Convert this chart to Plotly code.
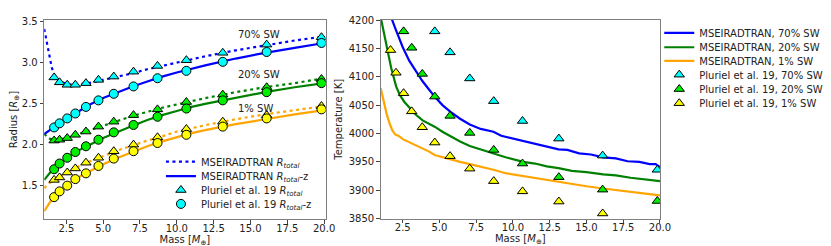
import plotly.graph_objects as go

# ---------------- data: left panel (radius) ----------------
mass_pluriel = [1.67, 2.04, 2.56, 3.11, 3.83, 4.68, 5.72, 7.06, 8.69, 10.65, 13.12, 16.1, 19.82]

pl_rtot_70 = [2.82, 2.76, 2.73, 2.73, 2.75, 2.79, 2.83, 2.89, 2.96, 3.03, 3.12, 3.22, 3.31]
pl_rz_70 = [2.21, 2.26, 2.32, 2.38, 2.46, 2.54, 2.62, 2.71, 2.81, 2.90, 3.01, 3.13, 3.24]
pl_rtot_20 = [2.05, 2.06, 2.08, 2.12, 2.16, 2.22, 2.28, 2.36, 2.43, 2.52, 2.61, 2.70, 2.80]
pl_rz_20 = [1.70, 1.77, 1.84, 1.91, 1.98, 2.06, 2.15, 2.24, 2.34, 2.44, 2.54, 2.64, 2.75]
pl_rtot_1 = [1.57, 1.60, 1.66, 1.71, 1.78, 1.84, 1.92, 2.00, 2.09, 2.19, 2.28, 2.36, 2.47]
pl_rz_1 = [1.36, 1.43, 1.50, 1.58, 1.65, 1.74, 1.83, 1.92, 2.02, 2.12, 2.22, 2.32, 2.43]

mass_model = [1.0, 1.1, 1.2, 1.3, 1.4, 1.5, 1.6, 1.7, 1.8, 2.0, 2.25, 2.5, 3.0, 3.5, 4.0,
              5.0, 6.0, 7.0, 8.0, 9.0, 10.0, 11.0, 12.0, 14.0, 16.0, 18.0, 20.0]
ms_rtot_70 = [3.41, 3.31, 3.21, 3.11, 3.02, 2.95, 2.89, 2.85, 2.81, 2.78, 2.76, 2.74, 2.73, 2.74, 2.75,
              2.79, 2.83, 2.87, 2.92, 2.96, 3.00, 3.04, 3.08, 3.15, 3.21, 3.27, 3.32]
ms_rz_70 = [2.13, 2.145, 2.16, 2.17, 2.18, 2.19, 2.20, 2.215, 2.23, 2.25, 2.28, 2.31, 2.37, 2.43, 2.48,
            2.57, 2.64, 2.71, 2.77, 2.83, 2.88, 2.925, 2.97, 3.05, 3.12, 3.18, 3.24]
ms_rtot_20 = [2.13, 2.11, 2.09, 2.08, 2.07, 2.065, 2.06, 2.06, 2.06, 2.06, 2.07, 2.08, 2.11, 2.14, 2.17,
              2.23, 2.29, 2.35, 2.40, 2.45, 2.49, 2.53, 2.57, 2.64, 2.70, 2.75, 2.81]
ms_rz_20 = [1.57, 1.595, 1.62, 1.64, 1.66, 1.675, 1.69, 1.71, 1.73, 1.76, 1.80, 1.84, 1.90, 1.95, 1.99,
            2.08, 2.16, 2.23, 2.30, 2.36, 2.41, 2.46, 2.50, 2.57, 2.64, 2.70, 2.75]
ms_rtot_1 = [1.47, 1.49, 1.51, 1.525, 1.54, 1.555, 1.57, 1.58, 1.59, 1.61, 1.635, 1.66, 1.71, 1.75, 1.79,
             1.86, 1.93, 1.99, 2.05, 2.10, 2.16, 2.20, 2.24, 2.31, 2.37, 2.42, 2.47]
ms_rz_1 = [1.19, 1.22, 1.25, 1.28, 1.31, 1.33, 1.35, 1.37, 1.39, 1.43, 1.465, 1.50, 1.57, 1.62, 1.67,
           1.76, 1.84, 1.91, 1.98, 2.04, 2.09, 2.14, 2.18, 2.25, 2.31, 2.37, 2.42]

# ---------------- data: right panel (temperature) ----------------
mass_t70 = [1.5, 1.78, 2.0, 2.28, 2.5, 2.95, 3.4, 3.85, 4.3, 4.67, 5.2, 5.75, 6.4, 7.06, 7.8, 8.67,
            9.2, 9.7, 10.69, 11.5, 12.3, 13.1, 13.7, 14.5, 15.3, 16.14, 17.0, 17.8, 18.6, 19.3, 19.7, 20.0]
temp_t70 = [4240, 4200, 4185, 4167, 4152, 4128, 4110, 4092, 4077, 4065, 4050, 4038, 4026, 4016, 4008, 4003,
            3996, 3993, 3987, 3982, 3977, 3972, 3971, 3965, 3963, 3958, 3956, 3951, 3950, 3946, 3946, 3941]
mass_t20 = [1.0, 1.2, 1.38, 1.71, 2.05, 2.3, 2.6, 3.0, 3.4, 3.85, 4.3, 4.67, 5.2, 5.75, 6.4, 7.06, 7.8,
            8.67, 9.5, 10.69, 11.5, 12.3, 13.1, 14.0, 15.0, 16.14, 17.0, 18.0, 19.0, 20.0]
temp_t20 = [4205, 4178, 4156, 4116, 4083, 4068, 4056, 4044, 4033, 4023, 4017, 4012, 4003, 3995, 3986, 3978,
            3972, 3965, 3958, 3950, 3947, 3942, 3939, 3934, 3932, 3928, 3926, 3922, 3919, 3916]
mass_t1 = [1.0, 1.2, 1.4, 1.6, 1.8, 2.0, 2.2, 2.5, 3.0, 3.4, 3.85, 4.3, 4.67, 5.2, 5.75, 6.4, 7.06, 7.8,
           8.67, 9.5, 10.69, 11.5, 12.3, 13.1, 14.0, 15.0, 16.14, 17.0, 18.0, 19.0, 20.0]
temp_t1 = [4080, 4055, 4035, 4018, 4005, 3998, 3996, 3990, 3984, 3979, 3973, 3968, 3962, 3958, 3955, 3950,
           3946, 3942, 3936, 3930, 3925, 3922, 3918, 3914, 3911, 3907, 3903, 3900, 3897, 3894, 3891]

mass_pt70 = [4.68, 5.72, 7.06, 8.69, 10.65, 13.12, 16.1, 19.82]
temp_pt70 = [4180, 4143, 4097, 4057, 4022, 3991, 3961, 3936]
mass_pt20 = [2.56, 3.11, 3.83, 4.68, 5.72, 7.06, 8.69, 10.65, 13.12, 16.1, 19.82]
temp_pt20 = [4180, 4151, 4105, 4065, 4031, 4001, 3971, 3947, 3923, 3901, 3881]
mass_pt1 = [1.67, 2.04, 2.56, 3.11, 3.83, 4.68, 5.72, 7.06, 8.69, 10.65, 13.12, 16.1]
temp_pt1 = [4147, 4107, 4071, 4039, 4011, 3984, 3960, 3938, 3916, 3898, 3880, 3859]

sw_labels = ["70% SW", "20% SW", "1% SW"]
sw_label_y = [3.34, 2.852, 2.446]

BLUE, GREEN, ORANGE = "#0000ff", "#008000", "#ffa500"
CYAN, LIME, YELLOW = "#00ffff", "#00ee00", "#ffff00"
FONT = "DejaVu Sans"

fig = go.Figure()

def line(x, y, color, dash, name=None, legend=None, xa="x", ya="y"):
    fig.add_trace(go.Scatter(
        x=x, y=y, mode="lines", xaxis=xa, yaxis=ya,
        line=dict(color=color, width=2.2, dash=dash),
        name=name or "", showlegend=legend is not None, legend=legend or "legend"))

def pts(x, y, color, symbol, name=None, legend=None, xa="x", ya="y"):
    fig.add_trace(go.Scatter(
        x=x, y=y, mode="markers", xaxis=xa, yaxis=ya,
        marker=dict(color=color, symbol=symbol, size=9, line=dict(color="black", width=1)),
        name=name or "", showlegend=legend is not None, legend=legend or "legend"))

# left panel lines
line(mass_model, ms_rtot_1, ORANGE, "3px,3.5px")
line(mass_model, ms_rz_1, ORANGE, "solid")
line(mass_model, ms_rtot_20, GREEN, "3px,3.5px")
line(mass_model, ms_rz_20, GREEN, "solid")
line(mass_model, ms_rtot_70, BLUE, "3px,3.5px",
     "MSEIRADTRAN <i>R</i><sub><i>total</i></sub>", "legend7")
line(mass_model, ms_rz_70, BLUE, "solid",
     "MSEIRADTRAN <i>R</i><sub><i>total</i></sub>-z", "legend8")
# left panel markers
pts(mass_pluriel, pl_rtot_1, YELLOW, "triangle-up")
pts(mass_pluriel, pl_rz_1, YELLOW, "circle")
pts(mass_pluriel, pl_rtot_20, LIME, "triangle-up")
pts(mass_pluriel, pl_rz_20, LIME, "circle")
pts(mass_pluriel, pl_rtot_70, CYAN, "triangle-up",
    "Pluriel et al. 19 <i>R</i><sub><i>total</i></sub>", "legend9")
pts(mass_pluriel, pl_rz_70, CYAN, "circle",
    "Pluriel et al. 19 <i>R</i><sub><i>total</i></sub>-z", "legend10")

# right panel
line(mass_t70, temp_t70, BLUE, "solid", "MSEIRADTRAN, 70% SW", "legend", "x2", "y2")
line(mass_t20, temp_t20, GREEN, "solid", "MSEIRADTRAN, 20% SW", "legend2", "x2", "y2")
line(mass_t1, temp_t1, ORANGE, "solid", "MSEIRADTRAN, 1% SW", "legend3", "x2", "y2")
pts(mass_pt70, temp_pt70, CYAN, "triangle-up", "Pluriel et al. 19, 70% SW", "legend4", "x2", "y2")
pts(mass_pt20, temp_pt20, LIME, "triangle-up", "Pluriel et al. 19, 20% SW", "legend5", "x2", "y2")
pts(mass_pt1, temp_pt1, YELLOW, "triangle-up", "Pluriel et al. 19, 1% SW", "legend6", "x2", "y2")

for txt, yy in zip(sw_labels, sw_label_y):
    fig.add_annotation(x=14.0, y=yy, xref="x", yref="y", text=txt, showarrow=False,
                       xanchor="left", yanchor="middle", font=dict(size=10, color="#222", family=FONT))

axis_common = dict(showline=True, mirror=True, linecolor="#808080", linewidth=1,
                   ticks="outside", ticklen=3.5, tickcolor="#444", tickwidth=1,
                   showgrid=False, zeroline=False,
                   tickfont=dict(size=10, color="#222", family=FONT))

xt = [2.5, 5.0, 7.5, 10.0, 12.5, 15.0, 17.5, 20.0]
xtitle = dict(text="Mass [<i>M</i><sub>⊕</sub>]", standoff=0, font=dict(size=10))
fig.update_layout(
    width=831, height=246, margin=dict(l=0, r=0, t=0, b=0),
    paper_bgcolor="white", plot_bgcolor="white",
    font=dict(family=FONT, size=10, color="#222"),
    xaxis=dict(domain=[0.0442, 0.3873], range=[1, 20.1], tickvals=xt, tickformat=".1f",
               anchor="y", title=xtitle, ticklabelstandoff=-4, **axis_common),
    yaxis=dict(domain=[0.126, 0.9703], range=[1.09, 3.52], tickvals=[1.5, 2.0, 2.5, 3.0, 3.5],
               tickformat=".1f", anchor="x",
               title=dict(text="Radius [<i>R</i><sub>⊕</sub>]", standoff=7, font=dict(size=10)),
               **axis_common),
    xaxis2=dict(domain=[0.4545, 0.7951], range=[1, 20], tickvals=xt, tickformat=".1f",
                anchor="y2", title=xtitle, ticklabelstandoff=-4, **axis_common),
    yaxis2=dict(domain=[0.1289, 0.9703], range=[3850, 4200], dtick=50, anchor="x2",
                title=dict(text="Temperature [K]", standoff=4, font=dict(size=10)), **axis_common),
)

leg_common = dict(xanchor="left", yanchor="middle", bgcolor="rgba(0,0,0,0)", borderwidth=0,
                  font=dict(size=10, color="#222", family=FONT), itemwidth=30)
right_rows = [20.7, 35.7, 50.0, 64.3, 79.3, 94.0]
left_rows = [155.0, 170.0, 184.5, 199.0]
names_r = ["legend", "legend2", "legend3", "legend4", "legend5", "legend6"]
names_l = ["legend7", "legend8", "legend9", "legend10"]
legs = {}
for nm, r in zip(names_r, right_rows):
    legs[nm] = dict(x=660 / 831, y=1 - r / 246, **leg_common)
for nm, r in zip(names_l, left_rows):
    legs[nm] = dict(x=155 / 831, y=1 - r / 246, **leg_common)
fig.update_layout(**legs)

fig.write_html("out.html")
